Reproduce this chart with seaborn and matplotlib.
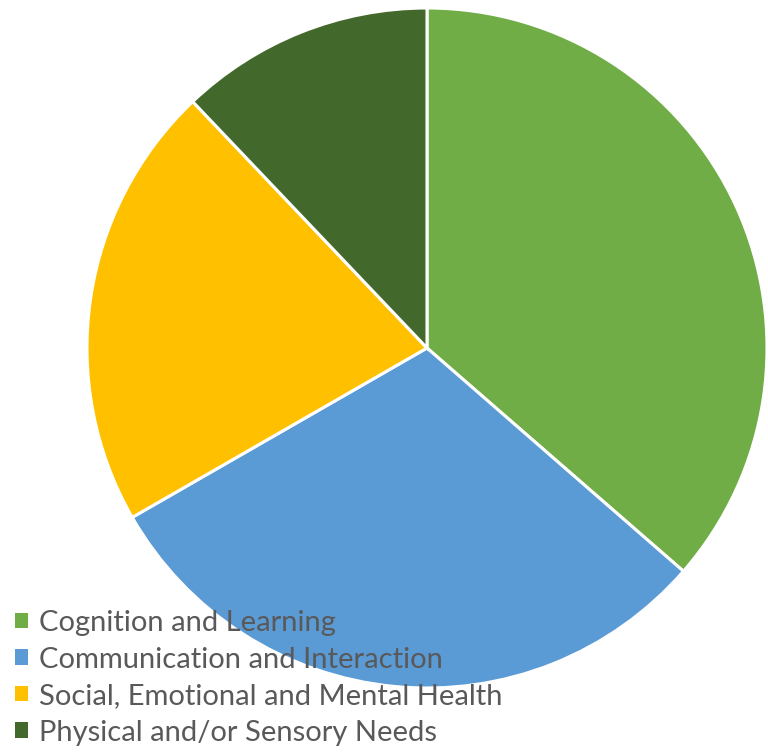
import matplotlib
matplotlib.use("Agg")
import matplotlib.pyplot as plt
import seaborn as sns
from matplotlib.patches import Patch

sns.set_theme(style="white")
plt.rcParams['font.family'] = ['Lato', 'DejaVu Sans']

categories = ['Cognition and Learning', 'Communication and Interaction',
              'Social, Emotional and Mental Health', 'Physical and/or Sensory Needs']
values = [36.4, 30.3, 21.2, 12.1]
colors = ['#70AD47', '#5B9BD5', '#FFC000', '#43682B']

fig = plt.figure(figsize=(7.68, 7.54), dpi=100)
ax = fig.add_axes([0, 0, 1, 1])

ax.pie(values, colors=colors, startangle=90, counterclock=False, radius=1,
       wedgeprops=dict(edgecolor='white', linewidth=2.2))
ax.set_aspect('auto')
ax.set_xlim(-427 / 340, (768 - 427) / 340)
ax.set_ylim(-(754 - 348) / 340, 348 / 340)
ax.axis('off')

handles = [Patch(facecolor=c, edgecolor='none') for c in colors]
leg = fig.legend(handles, categories, loc='lower left', bbox_to_anchor=(-0.003, -0.012),
                 frameon=False, fontsize=21, handlelength=0.45, handleheight=0.45,
                 handletextpad=0.35, labelspacing=0.36, borderaxespad=0.2)
for t in leg.get_texts():
    t.set_color('#595959')

fig.savefig('out.png', dpi=100)
